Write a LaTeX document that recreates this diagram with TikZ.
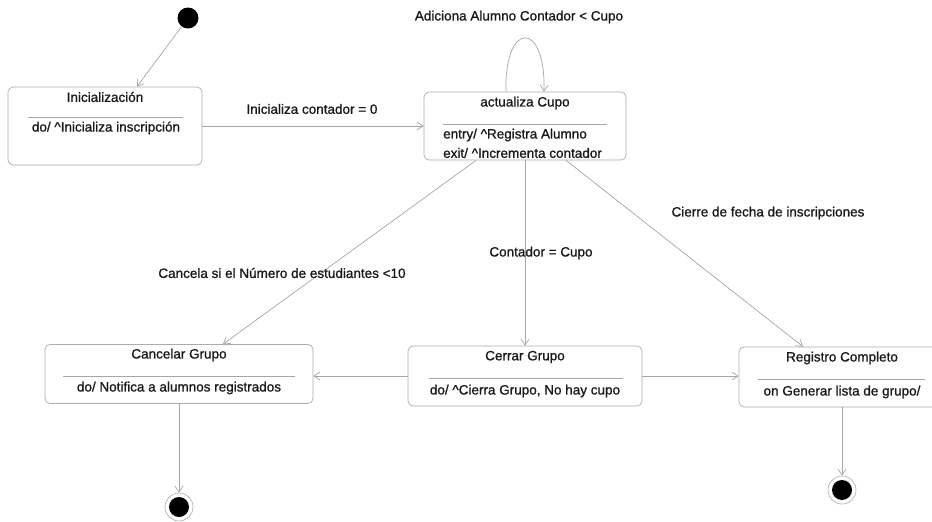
\documentclass[tikz,border=0pt]{standalone}
\usepackage{fontspec}
\setmainfont{Liberation Sans}
\newfontfamily\labfont{Liberation Sans}[FakeBold=1]
\usetikzlibrary{arrows.meta,calc}

\tikzset{
  statebox/.style={draw=gray!65, line width=0.7pt, rounded corners=5pt, inner sep=0pt, fill=white},
  txt/.style={font=\fontsize{13.5}{15}\labfont, text=black!90, inner sep=0pt},
  sepline/.style={draw=gray!70, line width=0.7pt},
  trans/.style={draw=gray!70, line width=0.7pt, -{Straight Barb[length=6pt,width=8pt,line width=0.7pt]}},
  initial/.style={circle, fill=black, minimum size=21pt, inner sep=0pt},
  final/.style={circle, draw=gray!60, line width=0.7pt, minimum size=28pt, inner sep=0pt,
    path picture={\fill[black] (path picture bounding box.center) circle (10pt);}},
}

\begin{document}
\begin{tikzpicture}[x=1pt,y=-1pt]
\useasboundingbox (0,0) rectangle (932,522);

% states
\node[statebox, minimum width=194pt, minimum height=78pt] (ini) at (105,126) {};
\node[txt] (iniT) at (105,97) {Inicialización};
\draw[sepline] (28,117) -- (183,117);
\node[txt] (iniB) at (106,128) {do/ \textasciicircum Inicializa inscripción};

\node[statebox, minimum width=202pt, minimum height=68pt] (act) at (525,126) {};
\node[txt] (actT) at (525,103) {actualiza Cupo};
\draw[sepline] (443,124) -- (607,124);
\node[txt, anchor=west] (actB1) at (443,135) {entry/ \textasciicircum Registra Alumno};
\node[txt, anchor=west] (actB2) at (443,153) {exit/ \textasciicircum Incrementa contador};

\node[statebox, minimum width=268pt, minimum height=59pt] (can) at (179,374) {};
\node[txt] (canT) at (179,355) {Cancelar Grupo};
\draw[sepline] (63,376) -- (295,376);
\node[txt] (canB) at (179,388) {do/ Notifica a alumnos registrados};

\node[statebox, minimum width=234pt, minimum height=60pt] (cer) at (525,376) {};
\node[txt] (cerT) at (525,357) {Cerrar Grupo};
\draw[sepline] (429,378) -- (623,378);
\node[txt] (cerB) at (525,391) {do/ \textasciicircum Cierra Grupo, No hay cupo};

\node[statebox, minimum width=206pt, minimum height=60pt] (reg) at (842,377) {};
\node[txt] (regT) at (842,358) {Registro Completo};
\draw[sepline] (758,379) -- (925,379);
\node[txt] (regB) at (842,392) {on Generar lista de grupo/};

% pseudo states
\node[initial] (start) at (188,18) {};
\node[final] (end1) at (179,507) {};
\node[final] (end2) at (842,490) {};

% transitions
\draw[trans] (start) -- ([xshift=32pt]ini.north);
\draw[trans] (ini.east) -- (act.west);
\draw[trans] ([xshift=-19pt]act.north) .. controls (504,20) and (546,20) .. ([xshift=19pt]act.north);
\draw[trans] ([xshift=-49pt]act.south) -- ([xshift=44pt]can.north);
\draw[trans] (act.south) -- (cer.north);
\draw[trans] ([xshift=41pt]act.south) -- ([xshift=-39pt]reg.north);
\draw[trans] (cer.west) -- (cer.west -| can.east);
\draw[trans] (cer.east) -- (cer.east -| reg.west);
\draw[trans] (can.south) -- (end1);
\draw[trans] (reg.south) -- (end2);

% transition labels
\node[txt] (l1) at (519,17) {Adiciona Alumno Contador < Cupo};
\node[txt] (l2) at (312,109) {Inicializa contador = 0};
\node[txt] (l3) at (282,273) {Cancela si el Número de estudiantes <10};
\node[txt] (l4) at (541,253) {Contador = Cupo};
\node[txt] (l5) at (768,213) {Cierre de fecha de inscripciones};
\end{tikzpicture}
\end{document}
